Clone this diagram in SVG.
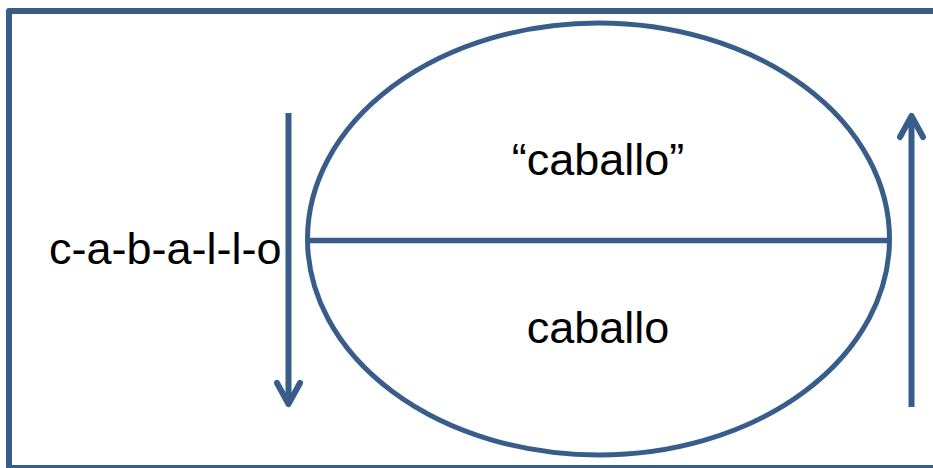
<svg xmlns="http://www.w3.org/2000/svg" width="933" height="468" viewBox="0 0 933 468">
<style>
.ln{fill:none;stroke:#385D8A;stroke-width:6;stroke-linecap:butt}
.hd{fill:none;stroke:#385D8A;stroke-width:6;stroke-linecap:round;stroke-linejoin:round}
.t{font-family:"Liberation Sans",Arial,sans-serif;font-size:45px;fill:#000}
</style>
<rect x="9" y="11" width="934" height="457" fill="#fff" stroke="#385D8A" stroke-width="6" stroke-linejoin="round"/>
<g id="word">
<ellipse cx="598.5" cy="239" rx="291" ry="216" fill="none" stroke="#385D8A" stroke-width="5"/>
<line x1="307" y1="240.5" x2="890" y2="240.5" stroke="#385D8A" stroke-width="5.5"/>
<text class="t" x="598" y="175" text-anchor="middle">“caballo”</text>
<text class="t" x="598" y="343" text-anchor="middle">caballo</text>
</g>
<g id="spelled">
<text class="t" x="49" y="264">c-a-b-a-l-l-o</text>
</g>
<g id="connectors">
<line class="ln" x1="288.5" y1="113" x2="288.5" y2="403"/>
<polyline class="hd" points="277,383 288.5,404 300,383"/>
<line class="ln" x1="911.5" y1="407" x2="911.5" y2="117"/>
<polyline class="hd" points="900,137 911.5,116 923,137"/>
</g>
</svg>
